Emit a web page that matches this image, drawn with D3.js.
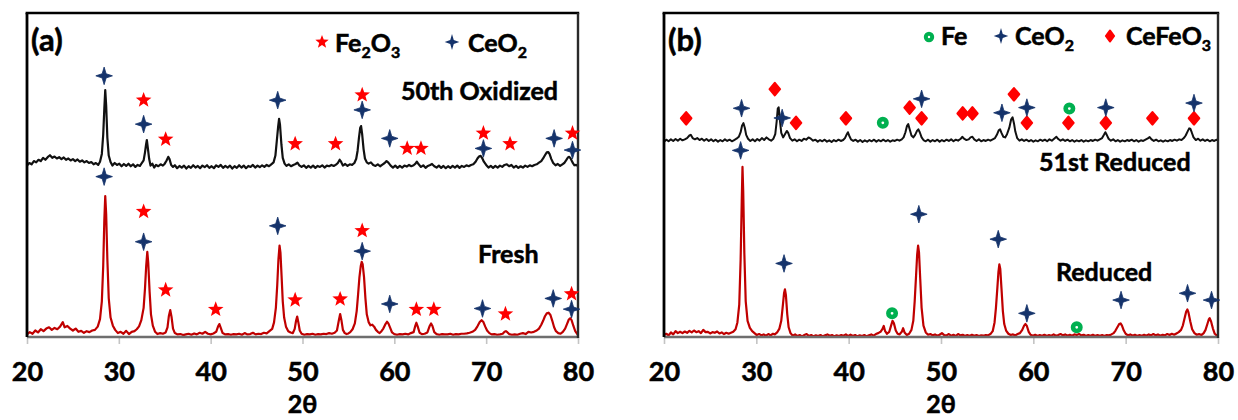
<!DOCTYPE html>
<html>
<head>
<meta charset="utf-8">
<script src="https://cdn.jsdelivr.net/npm/d3@7"></script>
<style>
  body { margin: 0; background: #fff; }
  svg { display: block; }
  text { font-family: Lato, "Open Sans", "Liberation Sans", sans-serif; font-weight: 700; fill: #000;
         stroke: #000; stroke-width: 0.55px; paint-order: stroke; }
</style>
</head>
<body>
<svg id="chart" width="1238" height="420"></svg>
<script>
// ---------- data ----------
const xTicks = [20, 30, 40, 50, 60, 70, 80];
const xTickLabels = ["20", "30", "40", "50", "60", "70", "80"];
const xAxisTitle = "2θ";

// vertical shift applied to the upper pattern of each panel (a.u.)
const oxidizedOffset = 52.5;
const reduced51Offset = 60;

// (a) fresh sample pattern [2θ, intensity]
const freshPattern = [
  [20.0,0.8],[20.3,1.5],[20.6,1.0],[20.9,2.0],[21.2,1.4],[21.5,2.4],[21.8,1.8],[22.1,2.6],[22.4,3.0],[22.7,2.2],
  [23.0,2.8],[23.3,2.4],[23.6,3.2],[23.9,4.6],[24.1,3.0],[24.4,3.4],[24.7,2.6],[25.0,2.0],[25.3,2.6],[25.6,1.6],
  [25.9,1.9],[26.2,1.3],[26.5,1.8],[26.8,1.5],[27.1,2.0],[27.4,2.2],[27.7,3.2],[27.95,5.5],[28.15,11],[28.3,22],
  [28.42,36],[28.52,43.5],[28.62,38],[28.75,24],[28.9,12],[29.1,6],[29.35,3.5],[29.6,2.2],[29.9,1.2],[30.2,1.6],
  [30.5,1.0],[30.8,1.9],[31.1,0.9],[31.4,1.6],[31.7,1.8],[31.95,2.4],[32.2,3.3],[32.45,5.2],[32.7,9],[32.85,15],
  [32.98,22],[33.1,26.3],[33.2,23],[33.35,14],[33.5,7],[33.7,3.5],[33.95,1.6],[34.2,0.9],[34.5,1.2],[34.8,1.0],
  [35.1,1.4],[35.3,3.0],[35.45,6.5],[35.6,8.3],[35.75,6.0],[35.9,2.6],[36.1,1.2],[36.4,0.8],[36.7,0.9],[37.0,0.6],
  [37.3,0.8],[37.6,1.0],[37.9,0.7],[38.2,1.1],[38.5,0.8],[38.8,1.3],[39.1,1.0],[39.4,1.6],[39.7,1.0],[40.0,0.8],
  [40.3,1.1],[40.6,1.6],[40.8,3.2],[40.95,4.0],[41.1,2.8],[41.3,1.2],[41.6,0.8],[41.9,0.9],[42.2,0.7],[42.5,0.9],
  [42.8,0.8],[43.1,1.0],[43.4,0.7],[43.7,1.2],[44.0,0.8],[44.3,0.9],[44.6,1.3],[44.9,0.8],[45.2,1.0],[45.5,0.9],
  [45.8,1.3],[46.1,1.1],[46.4,1.8],[46.7,2.5],[46.9,4.5],[47.1,9],[47.25,16],[47.38,24],[47.5,28.2],[47.6,26],
  [47.72,19],[47.85,11],[48.0,6],[48.2,3.2],[48.45,1.8],[48.7,1.4],[48.95,1.2],[49.15,2.5],[49.3,5.0],[49.42,6.3],
  [49.55,4.5],[49.7,2.0],[49.9,1.0],[50.2,0.7],[50.5,0.9],[50.8,0.8],[51.1,1.0],[51.4,0.7],[51.7,0.9],[52.0,0.8],
  [52.3,1.0],[52.6,0.9],[52.9,1.2],[53.2,1.0],[53.5,1.3],[53.75,2.0],[53.95,5.0],[54.1,7.1],[54.25,5.0],[54.4,2.2],
  [54.6,1.2],[54.8,0.9],[55.0,1.1],[55.2,1.5],[55.45,2.4],[55.7,4.2],[55.9,8],[56.05,13],[56.2,18.5],[56.35,22],
  [56.45,23.2],[56.55,22.5],[56.7,18.5],[56.85,12],[57.0,7],[57.2,4.6],[57.4,3.6],[57.6,3.8],[57.8,3.2],[58.0,2.2],
  [58.2,1.6],[58.4,1.2],[58.6,1.8],[58.8,2.6],[59.0,3.8],[59.2,4.7],[59.35,4.2],[59.55,2.8],[59.75,1.4],[60.0,0.9],
  [60.3,0.7],[60.6,0.9],[60.9,0.8],[61.2,1.0],[61.5,0.8],[61.8,1.2],[62.1,1.5],[62.3,3.6],[62.4,4.4],[62.55,3.2],
  [62.75,1.3],[63.0,0.9],[63.3,1.0],[63.6,1.4],[63.85,3.4],[64.0,4.2],[64.15,3.4],[64.35,1.5],[64.6,0.9],[64.9,0.7],
  [65.2,0.9],[65.5,0.8],[65.8,0.8],[66.1,1.0],[66.4,0.7],[66.7,0.9],[67.0,0.8],[67.3,1.0],[67.6,1.0],[67.9,1.1],
  [68.2,1.3],[68.5,1.6],[68.8,2.2],[69.05,3.3],[69.3,4.6],[69.5,5.2],[69.7,4.6],[69.9,3.2],[70.1,2.0],[70.35,1.2],
  [70.6,0.8],[70.9,0.9],[71.2,0.7],[71.5,0.8],[71.8,1.0],[72.0,1.6],[72.15,1.8],[72.3,1.5],[72.5,0.9],[72.8,0.7],
  [73.1,0.8],[73.4,0.7],[73.7,1.0],[74.0,1.2],[74.3,0.9],[74.6,1.6],[74.9,1.4],[75.2,1.6],[75.5,2.0],[75.75,2.6],
  [76.0,3.8],[76.2,5.0],[76.4,6.4],[76.6,7.3],[76.8,7.5],[77.0,6.8],[77.2,5.0],[77.4,3.0],[77.6,1.8],[77.85,1.2],
  [78.1,1.0],[78.35,1.6],[78.6,2.6],[78.8,4.0],[79.0,5.4],[79.15,5.8],[79.3,5.2],[79.5,3.4],[79.7,1.8],[80.0,0.6]
];

// (a) after 50 cycles, oxidized [2θ, intensity]
const oxidizedPattern = [
  [20.0,0.4],[20.25,1.2],[20.5,0.8],[20.75,1.8],[21.0,1.4],[21.25,2.2],[21.5,1.8],[21.75,2.8],[22.0,2.2],[22.25,3.0],
  [22.5,3.6],[22.75,2.8],[23.0,3.2],[23.25,2.6],[23.5,3.0],[23.75,2.4],[24.0,2.9],[24.25,2.2],[24.5,2.6],[24.75,2.0],
  [25.0,2.4],[25.25,1.8],[25.5,2.3],[25.75,1.6],[26.0,2.0],[26.25,1.4],[26.5,1.8],[26.75,1.2],[27.0,1.5],[27.25,0.8],
  [27.5,1.2],[27.75,0.6],[27.95,1.6],[28.15,4],[28.3,10],[28.42,18],[28.52,23.7],[28.62,19],[28.75,9],[28.9,3.5],
  [29.1,1.5],[29.3,0.4],[29.55,1.2],[29.8,0.6],[30.05,1.0],[30.3,0.2],[30.55,0.9],[30.8,0.3],[31.05,1.0],[31.3,0.2],
  [31.55,0.8],[31.8,0.0],[32.05,0.6],[32.3,0.3],[32.5,1.2],[32.7,2.0],[32.85,4.5],[32.97,7],[33.05,8.3],[33.15,6],
  [33.3,2.5],[33.45,0.4],[33.65,1.0],[33.85,-0.2],[34.05,0.6],[34.3,0.2],[34.55,0.8],[34.8,0.4],[35.0,1.0],[35.2,2.0],
  [35.38,3.1],[35.52,2.4],[35.7,0.6],[35.9,0.0],[36.1,0.5],[36.35,-0.4],[36.6,0.3],[36.85,-0.2],[37.1,0.4],[37.35,-0.5],
  [37.6,0.2],[37.85,-0.3],[38.1,0.5],[38.35,-0.2],[38.6,0.3],[38.85,-0.4],[39.1,0.4],[39.35,-0.1],[39.6,0.5],[39.85,-0.3],
  [40.1,0.2],[40.35,-0.4],[40.6,0.5],[40.85,0.0],[41.1,0.6],[41.35,-0.3],[41.6,0.3],[41.85,-0.2],[42.1,0.4],[42.35,-0.5],
  [42.6,0.2],[42.85,-0.3],[43.1,0.5],[43.35,-0.2],[43.6,0.4],[43.85,-0.4],[44.1,0.3],[44.35,0.0],[44.6,0.6],[44.85,-0.2],
  [45.1,0.4],[45.35,-0.1],[45.6,0.5],[45.85,0.0],[46.1,0.6],[46.35,0.2],[46.6,0.8],[46.85,1.4],[47.05,3.5],[47.2,8],
  [47.35,12.5],[47.45,14.8],[47.55,13],[47.7,7],[47.85,2.8],[48.05,1.0],[48.25,0.3],[48.5,0.8],[48.75,0.2],[49.0,0.6],
  [49.25,0.9],[49.45,1.3],[49.65,0.5],[49.9,0.0],[50.15,0.5],[50.4,-0.3],[50.65,0.3],[50.9,-0.2],[51.15,0.4],[51.4,-0.3],
  [51.65,0.3],[51.9,0.0],[52.15,0.5],[52.4,-0.2],[52.65,0.4],[52.9,0.2],[53.15,0.6],[53.4,0.3],[53.65,0.7],[53.85,1.2],
  [54.05,2.2],[54.2,1.6],[54.4,0.4],[54.65,0.9],[54.9,0.3],[55.15,0.8],[55.4,0.6],[55.65,1.2],[55.85,2.5],[56.0,5],
  [56.15,9],[56.28,12],[56.38,12.6],[56.5,10],[56.65,5.5],[56.8,2.6],[57.0,1.4],[57.2,1.0],[57.45,1.4],[57.7,0.6],
  [57.95,0.3],[58.2,0.8],[58.45,0.2],[58.7,0.7],[58.95,1.2],[59.15,1.8],[59.35,1.3],[59.6,0.4],[59.85,-0.2],[60.1,0.4],
  [60.35,-0.3],[60.6,0.3],[60.85,-0.2],[61.1,0.4],[61.35,0.1],[61.6,0.6],[61.85,0.2],[62.1,0.5],[62.3,1.0],[62.45,1.6],
  [62.65,0.8],[62.9,0.0],[63.15,0.5],[63.4,-0.3],[63.65,0.3],[63.9,0.6],[64.1,0.9],[64.35,0.2],[64.6,-0.2],[64.85,0.4],
  [65.1,-0.3],[65.35,0.3],[65.6,-0.4],[65.85,0.2],[66.1,-0.3],[66.35,0.3],[66.6,-0.2],[66.85,0.4],[67.1,-0.3],[67.35,0.3],
  [67.6,0.0],[67.85,0.5],[68.1,0.2],[68.35,0.6],[68.6,0.8],[68.85,1.6],[69.05,2.6],[69.25,3.3],[69.4,3.4],[69.55,2.8],
  [69.75,1.6],[70.0,0.6],[70.25,-0.2],[70.5,0.3],[70.75,-0.3],[71.0,0.3],[71.25,-0.2],[71.5,0.4],[71.75,0.0],[72.0,0.6],
  [72.25,0.8],[72.5,0.2],[72.75,0.6],[73.0,-0.2],[73.25,0.3],[73.5,-0.3],[73.75,0.2],[74.0,-0.2],[74.25,0.4],[74.5,0.0],
  [74.75,0.5],[75.0,0.2],[75.25,0.6],[75.5,0.8],[75.75,1.3],[76.0,1.8],[76.2,2.6],[76.4,3.6],[76.6,4.5],[76.75,4.6],
  [76.9,4.0],[77.1,2.4],[77.3,1.2],[77.55,0.5],[77.8,0.9],[78.05,0.3],[78.3,0.8],[78.5,1.2],[78.7,2.0],[78.9,2.9],
  [79.05,3.1],[79.2,2.6],[79.4,1.4],[79.6,0.5],[79.8,0.6],[80.0,0.3]
];

// (b) reduced sample pattern [2θ, intensity]
const reducedPattern = [
  [20.0,0.6],[20.25,1.0],[20.5,0.5],[20.75,1.4],[21.0,0.8],[21.25,1.8],[21.5,1.2],[21.75,1.6],[22.0,1.2],[22.25,1.7],
  [22.5,1.3],[22.75,1.9],[23.0,1.4],[23.25,2.0],[23.5,1.5],[23.75,1.8],[24.0,1.2],[24.25,2.2],[24.5,1.5],[24.75,1.6],
  [25.0,1.1],[25.25,1.5],[25.5,1.3],[25.75,1.7],[26.0,1.1],[26.25,1.4],[26.5,0.9],[26.75,1.3],[27.0,1.0],[27.25,1.3],
  [27.5,1.6],[27.75,2.4],[27.95,4.5],[28.15,10],[28.3,24],[28.42,42],[28.5,52.5],[28.58,45],[28.7,26],[28.85,11],
  [29.05,5],[29.3,2.8],[29.55,1.8],[29.8,1.2],[30.05,0.6],[30.3,0.9],[30.55,0.5],[30.8,0.8],[31.05,0.4],[31.3,0.9],
  [31.55,0.5],[31.8,1.0],[32.0,0.8],[32.25,1.4],[32.5,2.6],[32.7,5],[32.88,10],[33.0,13.5],[33.1,14.7],[33.2,13],
  [33.35,7],[33.5,3],[33.7,1.2],[33.95,0.4],[34.2,0.8],[34.45,0.3],[34.7,0.6],[34.95,0.2],[35.2,0.6],[35.45,0.9],
  [35.7,0.3],[35.95,0.6],[36.2,0.2],[36.45,0.5],[36.7,0.3],[36.95,0.6],[37.2,0.2],[37.45,0.5],[37.7,0.8],[37.95,0.4],
  [38.2,0.6],[38.45,0.2],[38.7,0.5],[38.95,0.3],[39.2,0.6],[39.45,0.4],[39.7,0.8],[39.95,0.3],[40.2,0.7],[40.45,0.3],
  [40.7,0.6],[40.95,0.2],[41.2,0.5],[41.45,0.3],[41.7,0.6],[41.95,0.2],[42.2,0.5],[42.45,0.8],[42.7,0.4],[42.95,0.9],
  [43.2,1.2],[43.45,1.6],[43.65,2.4],[43.8,3.4],[43.95,1.8],[44.15,1.0],[44.4,1.6],[44.6,3.6],[44.75,5.0],[44.9,4.2],
  [45.1,2.0],[45.3,1.0],[45.5,0.8],[45.75,1.6],[45.9,2.7],[46.05,1.4],[46.3,0.6],[46.55,1.0],[46.8,2.2],[47.0,5],
  [47.15,11],[47.3,19],[47.42,25.5],[47.52,28.2],[47.62,26],[47.75,18],[47.9,9],[48.1,3.5],[48.35,1.4],[48.6,0.7],
  [48.85,0.9],[49.1,0.5],[49.35,0.8],[49.6,0.4],[49.85,0.7],[50.1,1.2],[50.35,0.6],[50.6,0.5],[50.85,0.9],[51.1,0.4],
  [51.35,0.7],[51.6,0.3],[51.85,0.9],[52.1,0.5],[52.35,0.7],[52.6,0.3],[52.85,0.6],[53.1,0.3],[53.35,0.7],[53.6,0.4],
  [53.85,0.6],[54.1,0.3],[54.35,0.5],[54.6,0.4],[54.85,0.6],[55.1,0.5],[55.35,0.9],[55.6,1.8],[55.8,4.5],[55.95,9],
  [56.1,15],[56.22,20],[56.32,22.4],[56.42,21],[56.55,15],[56.7,8],[56.85,4],[57.05,2.0],[57.3,1.0],[57.55,0.6],
  [57.8,0.8],[58.05,0.5],[58.3,0.9],[58.55,1.2],[58.8,2.2],[59.0,3.5],[59.15,4.0],[59.3,3.4],[59.5,1.6],[59.7,0.7],
  [59.95,0.4],[60.2,0.7],[60.45,0.3],[60.7,0.6],[60.95,0.4],[61.2,0.7],[61.45,0.3],[61.7,0.6],[61.95,0.4],[62.2,0.8],
  [62.45,0.4],[62.7,0.6],[62.95,0.9],[63.2,0.5],[63.45,0.8],[63.7,0.4],[63.95,0.7],[64.2,0.4],[64.45,0.8],[64.7,0.6],
  [64.95,0.9],[65.2,0.5],[65.45,0.7],[65.7,0.3],[65.95,0.6],[66.2,0.4],[66.45,0.7],[66.7,0.3],[66.95,0.6],[67.2,0.4],
  [67.45,0.6],[67.7,0.3],[67.95,0.6],[68.2,0.5],[68.45,0.8],[68.7,1.2],[68.9,2.0],[69.1,3.0],[69.3,4.0],[69.45,4.2],
  [69.6,3.5],[69.8,2.0],[70.0,1.0],[70.25,0.5],[70.5,0.8],[70.75,0.4],[71.0,0.7],[71.25,0.3],[71.5,0.6],[71.75,0.4],
  [72.0,0.7],[72.25,0.4],[72.5,0.8],[72.75,0.5],[73.0,0.9],[73.25,0.5],[73.5,0.8],[73.75,0.4],[74.0,0.7],[74.25,0.5],
  [74.5,0.9],[74.75,0.6],[75.0,1.0],[75.25,0.7],[75.5,1.1],[75.75,1.5],[76.0,2.2],[76.2,3.6],[76.4,6.0],[76.55,7.8],
  [76.68,8.5],[76.8,7.6],[77.0,4.8],[77.2,2.4],[77.45,1.2],[77.7,0.7],[77.95,0.9],[78.2,0.6],[78.45,1.2],[78.65,2.2],
  [78.85,4.0],[79.0,5.4],[79.1,5.8],[79.25,4.8],[79.45,2.6],[79.65,1.0],[79.85,0.5],[80.0,0.3]
];

// (b) after the 51st reduction [2θ, intensity]
const reduced51Pattern = [
  [20.0,0.3],[20.25,0.9],[20.5,0.4],[20.75,1.0],[21.0,0.5],[21.25,1.1],[21.5,0.6],[21.75,1.2],[22.0,0.7],[22.25,1.0],
  [22.5,1.4],[22.75,2.2],[22.9,2.4],[23.1,1.4],[23.35,1.0],[23.6,1.4],[23.85,0.8],[24.1,1.2],[24.35,0.6],[24.6,1.1],
  [24.85,0.5],[25.1,1.0],[25.35,0.4],[25.6,0.9],[25.85,0.3],[26.1,0.8],[26.35,0.4],[26.6,1.0],[26.85,0.5],[27.1,0.9],
  [27.35,0.4],[27.6,0.8],[27.85,1.2],[28.1,1.8],[28.3,3.2],[28.45,5.2],[28.6,6.0],[28.75,4.6],[28.9,2.4],[29.1,1.2],
  [29.35,0.5],[29.6,1.0],[29.85,0.4],[30.1,1.1],[30.35,0.6],[30.6,1.4],[30.85,0.8],[31.1,1.6],[31.35,1.0],[31.6,0.6],
  [31.85,1.2],[32.05,2.6],[32.2,6.5],[32.32,10.5],[32.42,10.9],[32.55,7.0],[32.7,3.0],[32.9,1.6],[33.1,2.6],[33.3,3.6],
  [33.45,3.0],[33.65,1.4],[33.9,0.6],[34.15,1.0],[34.4,0.4],[34.65,0.9],[34.9,0.5],[35.15,1.2],[35.4,0.9],[35.65,1.6],
  [35.9,1.2],[36.15,0.6],[36.4,0.9],[36.65,0.3],[36.9,0.8],[37.15,0.4],[37.4,0.9],[37.65,0.3],[37.9,0.7],[38.15,0.2],
  [38.4,0.8],[38.65,0.4],[38.9,0.9],[39.15,0.5],[39.4,0.8],[39.6,1.4],[39.8,2.6],[39.92,3.2],[40.05,2.2],[40.25,1.0],
  [40.5,0.5],[40.75,0.9],[41.0,0.3],[41.25,0.8],[41.5,0.2],[41.75,0.7],[42.0,0.3],[42.25,0.8],[42.5,0.4],[42.75,0.9],
  [43.0,0.3],[43.25,0.8],[43.5,0.4],[43.75,0.9],[44.0,0.4],[44.25,0.8],[44.5,0.3],[44.75,0.7],[45.0,0.5],[45.25,0.9],
  [45.5,0.6],[45.75,1.0],[45.95,1.6],[46.15,3.2],[46.32,5.2],[46.45,5.7],[46.6,4.2],[46.8,2.2],[47.0,1.6],[47.2,2.4],
  [47.4,3.6],[47.55,4.1],[47.7,3.2],[47.9,1.6],[48.1,0.8],[48.35,0.4],[48.6,0.9],[48.85,0.3],[49.1,0.8],[49.35,0.4],
  [49.6,0.9],[49.85,0.3],[50.1,0.8],[50.35,0.4],[50.6,0.9],[50.85,0.5],[51.1,1.0],[51.35,0.4],[51.6,0.9],[51.85,0.6],
  [52.1,1.1],[52.3,1.8],[52.5,1.2],[52.75,0.8],[53.0,1.0],[53.2,1.6],[53.4,1.8],[53.6,1.0],[53.85,0.5],[54.1,1.0],
  [54.35,0.4],[54.6,0.8],[54.85,0.5],[55.1,0.9],[55.35,0.6],[55.6,1.0],[55.85,1.4],[56.05,2.4],[56.25,3.8],[56.4,4.1],
  [56.55,3.0],[56.75,1.8],[56.95,1.6],[57.15,2.6],[57.4,4.6],[57.6,7.2],[57.75,7.8],[57.9,6.0],[58.05,3.4],[58.25,1.4],
  [58.5,0.6],[58.75,1.0],[59.0,0.5],[59.25,0.9],[59.5,0.4],[59.75,0.8],[60.0,0.3],[60.25,0.7],[60.5,0.4],[60.75,0.9],
  [61.0,0.5],[61.25,0.9],[61.5,0.4],[61.75,1.0],[62.0,0.6],[62.25,1.2],[62.5,1.8],[62.7,1.1],[62.95,0.6],[63.2,1.0],
  [63.45,0.5],[63.7,0.9],[63.95,0.4],[64.2,0.8],[64.45,0.3],[64.7,0.7],[64.95,0.4],[65.2,0.8],[65.45,0.3],[65.7,0.7],
  [65.95,0.4],[66.2,0.8],[66.45,0.5],[66.7,0.9],[66.95,0.6],[67.2,1.0],[67.45,1.4],[67.65,2.4],[67.8,3.2],[67.95,2.4],
  [68.15,1.2],[68.4,0.6],[68.65,1.0],[68.9,0.4],[69.15,0.8],[69.4,0.3],[69.65,0.7],[69.9,0.4],[70.15,0.8],[70.4,0.5],
  [70.65,0.9],[70.9,0.4],[71.15,0.8],[71.4,0.3],[71.65,0.7],[71.9,0.5],[72.15,0.9],[72.4,1.3],[72.6,1.7],[72.8,1.0],
  [73.05,0.5],[73.3,0.9],[73.55,0.4],[73.8,0.7],[74.05,0.3],[74.3,0.7],[74.55,0.4],[74.8,0.8],[75.05,0.5],[75.3,0.9],
  [75.55,0.6],[75.8,1.0],[76.05,0.8],[76.3,1.4],[76.5,2.2],[76.7,3.4],[76.88,4.4],[77.0,4.3],[77.15,3.2],[77.35,1.6],
  [77.6,0.8],[77.85,1.2],[78.1,0.6],[78.35,1.0],[78.6,0.5],[78.85,0.9],[79.1,0.4],[79.35,0.8],[79.6,0.5],[79.85,0.9],
  [80.0,0.6]
];

// phase markers [2θ, height on the plotted scale]
const oxidizedFe2O3 = [[32.7,73.1],[35.1,61.0],[49.2,59.6],[53.6,59.6],[56.5,74.7],[61.4,58.2],[62.9,58.2],[69.7,62.9],[72.6,59.6],[79.4,62.9]];
const oxidizedCeO2  = [[28.4,80.6],[32.7,65.7],[47.3,73.1],[56.5,70.1],[59.5,61.3],[69.7,58.2],[77.4,61.3],[79.4,57.7]];
const freshFe2O3    = [[32.7,38.7],[35.1,14.5],[40.55,8.5],[49.2,11.4],[54.1,11.7],[56.5,32.8],[62.4,8.5],[64.3,8.5],[72.1,7.1],[79.3,13.3]];
const freshCeO2     = [[28.4,49.5],[32.7,29.4],[47.3,34.3],[56.5,26.5],[59.5,10.2],[69.6,8.8],[77.3,11.9],[79.3,8.6]];

const reduced51CeFeO3 = [[22.4,67.5],[32.0,76.5],[34.3,66.1],[39.7,67.5],[46.6,70.8],[47.9,67.5],[52.35,69.0],[53.4,69.0],[57.9,74.9],[59.3,66.1],[63.8,66.1],[67.85,66.1],[72.9,67.5],[77.4,67.5]];
const reduced51CeO2   = [[28.4,70.6],[32.8,67.6],[47.9,73.5],[56.6,69.2],[59.3,70.8],[67.85,70.8],[77.4,72.2]];
const reduced51Fe     = [[43.7,66.1],[63.9,70.5]];
const reducedCeO2     = [[28.3,57.6],[33.0,22.7],[47.6,37.9],[56.2,30.2],[59.3,7.3],[69.5,11.4],[76.7,13.5],[79.3,11.4]];
const reducedFe       = [[44.7,7.3],[64.7,3.0]];

// ---------- styling ----------
const RED_TRACE = "#C00000";
const BLACK_TRACE = "#111111";
const STAR_RED = "#FF0000";
const NAVY = "#15336B";
const GREEN = "#00B050";
const LABEL_SIZE = 25;
const SUB_SIZE = 16;

const svg = d3.select("#chart");

// marker shapes
function star5Path(r) {
  const pts = [];
  for (let i = 0; i < 10; i++) {
    const a = -Math.PI / 2 + i * Math.PI / 5;
    const rr = i % 2 === 0 ? r : r * 0.42;
    pts.push([rr * Math.cos(a), rr * Math.sin(a)]);
  }
  return "M" + pts.map(p => p[0].toFixed(2) + "," + p[1].toFixed(2)).join("L") + "Z";
}
function star4Path(w, h) {
  const k = 0.24;
  const pts = [[0,-h],[w*k,-h*k],[w,0],[w*k,h*k],[0,h],[-w*k,h*k],[-w,0],[-w*k,-h*k]];
  return "M" + pts.map(p => p[0].toFixed(2) + "," + p[1].toFixed(2)).join("L") + "Z";
}
function diamondPath(w, h) {
  return `M0,${-h}L${w},0L0,${h}L${-w},0Z`;
}

function drawMarkers(g, data, kind, x, y) {
  const sel = g.selectAll(null).data(data).enter();
  if (kind === "star5") {
    sel.append("path").attr("d", star5Path(8.2))
      .attr("transform", d => `translate(${x(d[0])},${y(d[1])})`)
      .attr("fill", STAR_RED);
  } else if (kind === "star4") {
    sel.append("path").attr("d", star4Path(8.3, 8.8))
      .attr("transform", d => `translate(${x(d[0])},${y(d[1])})`)
      .attr("fill", NAVY).attr("stroke", NAVY).attr("stroke-width", 0.8);
  } else if (kind === "diamond") {
    sel.append("path").attr("d", diamondPath(5.2, 6.2))
      .attr("transform", d => `translate(${x(d[0])},${y(d[1])})`)
      .attr("fill", STAR_RED).attr("stroke", STAR_RED)
      .attr("stroke-width", 2.2).attr("stroke-linejoin", "round");
  } else if (kind === "ring") {
    sel.append("circle").attr("r", 3.7)
      .attr("cx", d => x(d[0])).attr("cy", d => y(d[1]))
      .attr("fill", "#fff").attr("stroke", GREEN).attr("stroke-width", 4.6);
  }
}

function drawPanel(opts) {
  const { left, right, top, bottom } = opts;
  const x = d3.scaleLinear().domain([20, 80]).range([left, right]);
  const y = d3.scaleLinear().domain([0, 100]).range([bottom, top]);
  const g = svg.append("g");

  // x axis with ticks below the plot
  const axis = d3.axisBottom(x).tickValues(xTicks)
    .tickFormat((d, i) => xTickLabels[i]).tickSize(7).tickPadding(18);
  const ax = g.append("g").attr("transform", `translate(0,${bottom})`).call(axis);
  ax.select(".domain").remove();
  ax.selectAll(".tick line").attr("stroke", "#C4C4C4").attr("stroke-width", 1.6);
  ax.selectAll(".tick text")
    .attr("font-family", "Lato, 'Open Sans', sans-serif")
    .attr("font-weight", 700).attr("font-size", 27).attr("fill", "#000")
    .attr("dy", "0.71em");

  g.append("text").attr("x", (left + right) / 2).attr("y", 413)
    .attr("text-anchor", "middle").attr("font-size", 25).text(xAxisTitle);

  // traces
  const line = off => d3.line().x(d => x(d[0])).y(d => y(d[1] + off));
  opts.traces.forEach(t => {
    g.append("path").datum(t.data)
      .attr("d", line(t.offset))
      .attr("fill", "none").attr("stroke", t.color)
      .attr("stroke-width", t.width).attr("stroke-linejoin", "round");
  });

  // frame
  g.append("line").attr("x1", left).attr("x2", right).attr("y1", bottom).attr("y2", bottom)
    .attr("stroke", "#6E6E6E").attr("stroke-width", 2.6);
  g.append("line").attr("x1", left).attr("x2", left).attr("y1", top).attr("y2", bottom)
    .attr("stroke", "#000").attr("stroke-width", 2.8);
  g.append("line").attr("x1", left - 1.4).attr("x2", right + 1.2).attr("y1", top).attr("y2", top)
    .attr("stroke", "#000").attr("stroke-width", 2.6);
  g.append("line").attr("x1", right).attr("x2", right).attr("y1", top).attr("y2", bottom + 1)
    .attr("stroke", "#2A2A2A").attr("stroke-width", 2.4);

  // phase markers
  opts.markers.forEach(m => drawMarkers(g, m.data, m.kind, x, y));

  // panel tag and sample labels
  g.append("text").attr("x", left + 4).attr("y", 51).attr("font-size", 31).text(opts.tag);
  opts.labels.forEach(l => {
    g.append("text").attr("x", l.x).attr("y", l.y).attr("font-size", LABEL_SIZE).text(l.text);
  });

  return g;
}

// chemical formula with subscripts
function formula(g, xPos, yPos, parts) {
  const t = g.append("text").attr("x", xPos).attr("y", yPos).attr("font-size", LABEL_SIZE);
  let sub = false;
  parts.forEach(p => {
    const isSub = /^[0-9]$/.test(p);
    const ts = t.append("tspan").text(p);
    if (isSub && !sub) { ts.attr("dy", 6).attr("font-size", SUB_SIZE); sub = true; }
    else if (isSub) { ts.attr("font-size", SUB_SIZE); }
    else if (!isSub && sub) { ts.attr("dy", -6); sub = false; }
  });
}

// ---------- panel (a) ----------
const gA = drawPanel({
  left: 27, right: 578, top: 13, bottom: 337, tag: "(a)",
  traces: [
    { data: freshPattern, offset: 0, color: RED_TRACE, width: 2.2 },
    { data: oxidizedPattern, offset: oxidizedOffset, color: BLACK_TRACE, width: 2.2 }
  ],
  markers: [
    { data: oxidizedFe2O3, kind: "star5" }, { data: oxidizedCeO2, kind: "star4" },
    { data: freshFe2O3, kind: "star5" }, { data: freshCeO2, kind: "star4" }
  ],
  labels: [
    { text: "50th Oxidized", x: 401, y: 100 },
    { text: "Fresh", x: 478, y: 263 }
  ]
});
gA.append("path").attr("d", star5Path(7)).attr("transform", "translate(322,42)").attr("fill", STAR_RED);
formula(gA, 335, 52, ["Fe", "2", "O", "3"]);
gA.append("path").attr("d", star4Path(7.3, 8)).attr("transform", "translate(452,42)").attr("fill", NAVY);
formula(gA, 468, 52, ["CeO", "2"]);

// ---------- panel (b) ----------
const gB = drawPanel({
  left: 664, right: 1218, top: 13, bottom: 337, tag: "(b)",
  traces: [
    { data: reducedPattern, offset: 0, color: RED_TRACE, width: 2.2 },
    { data: reduced51Pattern, offset: reduced51Offset, color: BLACK_TRACE, width: 2.0 }
  ],
  markers: [
    { data: reduced51CeFeO3, kind: "diamond" }, { data: reduced51CeO2, kind: "star4" },
    { data: reduced51Fe, kind: "ring" }, { data: reducedCeO2, kind: "star4" },
    { data: reducedFe, kind: "ring" }
  ],
  labels: [
    { text: "51st Reduced", x: 1039, y: 171 },
    { text: "Reduced", x: 1056, y: 281 }
  ]
});
gB.append("circle").attr("cx", 929).attr("cy", 37).attr("r", 3.2)
  .attr("fill", "#fff").attr("stroke", GREEN).attr("stroke-width", 4);
formula(gB, 941, 45, ["Fe"]);
gB.append("path").attr("d", star4Path(7.3, 8)).attr("transform", "translate(1001,36)").attr("fill", NAVY);
formula(gB, 1015, 45, ["CeO", "2"]);
gB.append("path").attr("d", diamondPath(4.2, 5.6)).attr("transform", "translate(1110,36)")
  .attr("fill", STAR_RED).attr("stroke", STAR_RED).attr("stroke-width", 1.8).attr("stroke-linejoin", "round");
formula(gB, 1126, 45, ["CeFeO", "3"]);
</script>
</body>
</html>
